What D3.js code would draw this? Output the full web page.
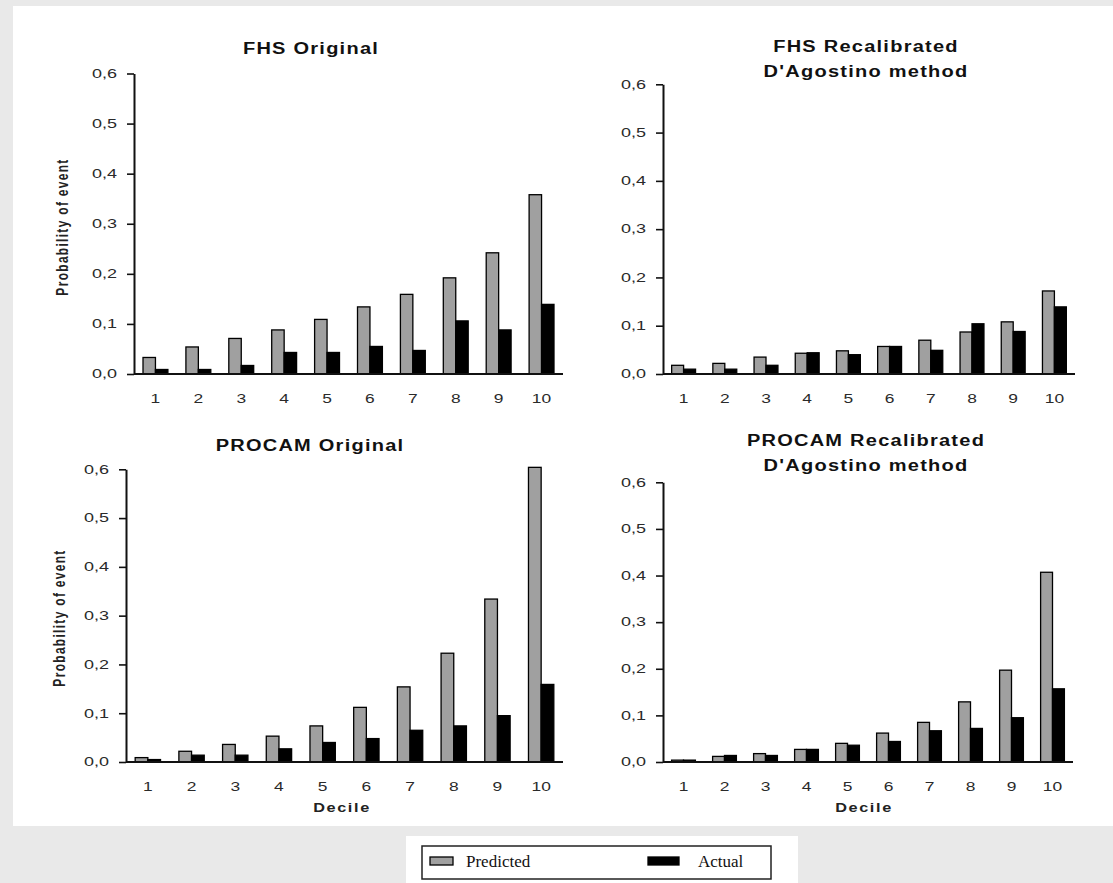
<!DOCTYPE html>
<html lang="en">
<head>
<meta charset="utf-8">
<title>Predicted vs actual by decile</title>
<script src="https://d3js.org/d3.v7.min.js"></script>
<style>
body { margin: 0; background: #e9e9e9; }
svg { display: block; }
.domain { stroke: #111; stroke-width: 2; }
.tick line { stroke: #111; stroke-width: 1.6; }
.tick text { font-family: "Liberation Sans", Arial, sans-serif; font-size: 12px; fill: #2a2a2a; }
.title { font-family: "Liberation Sans", Arial, sans-serif; font-size: 16px; font-weight: bold; fill: #111; letter-spacing: 1px; }
.axlabel { font-family: "Liberation Sans", Arial, sans-serif; font-size: 12px; font-weight: bold; fill: #222; letter-spacing: 1.3px; }
.legend text { font-family: "Liberation Serif", "Times New Roman", serif; font-size: 17px; fill: #111; }
</style>
</head>
<body>
<div id="container"></div>
<script>
// data
var deciles = ["1", "2", "3", "4", "5", "6", "7", "8", "9", "10"];
var yTicks = [0, 0.1, 0.2, 0.3, 0.4, 0.5, 0.6];

var fhsOrigPredicted = [0.033, 0.054, 0.071, 0.088, 0.109, 0.134, 0.159, 0.192, 0.242, 0.358];
var fhsOrigActual    = [0.009, 0.009, 0.017, 0.043, 0.043, 0.055, 0.047, 0.106, 0.088, 0.139];

var fhsRecalPredicted = [0.018, 0.022, 0.035, 0.043, 0.048, 0.057, 0.070, 0.087, 0.108, 0.172];
var fhsRecalActual    = [0.010, 0.010, 0.018, 0.044, 0.040, 0.057, 0.049, 0.104, 0.088, 0.139];

var procamOrigPredicted = [0.009, 0.022, 0.036, 0.053, 0.074, 0.112, 0.154, 0.223, 0.334, 0.604];
var procamOrigActual    = [0.005, 0.014, 0.014, 0.027, 0.040, 0.048, 0.065, 0.074, 0.095, 0.159];

var procamRecalPredicted = [0.004, 0.012, 0.018, 0.027, 0.040, 0.062, 0.085, 0.129, 0.197, 0.407];
var procamRecalActual    = [0.004, 0.014, 0.014, 0.027, 0.036, 0.044, 0.067, 0.072, 0.095, 0.157];

var seriesNames = ["Predicted", "Actual"];
var seriesColors = ["#a0a0a0", "#000000"];

var w = 1113, h = 883;
var svg = d3.select("#container").append("svg").attr("width", w).attr("height", h);

svg.append("rect").attr("x", 13).attr("y", 6).attr("width", w - 13).attr("height", 820).attr("fill", "#fff");

var panels = [
  { titles: ["FHS Original"], tY: [54], tX: 311, pred: fhsOrigPredicted, act: fhsOrigActual,
    x0: 134, x1: 563, yBot: 374, yTop: 73.5, yLab: [64, 227] },
  { titles: ["FHS Recalibrated", "D'Agostino method"], tY: [52, 77], tX: 866, pred: fhsRecalPredicted, act: fhsRecalActual,
    x0: 663, x1: 1075, yBot: 374, yTop: 84.3 },
  { titles: ["PROCAM Original"], tY: [451], tX: 310, pred: procamOrigPredicted, act: procamOrigActual,
    x0: 126, x1: 563, yBot: 762, yTop: 469.3, yLab: [61, 618], xLab: [342, 812] },
  { titles: ["PROCAM Recalibrated", "D'Agostino method"], tY: [446, 471], tX: 866, pred: procamRecalPredicted, act: procamRecalActual,
    x0: 663, x1: 1073, yBot: 762, yTop: 482.3, xLab: [864, 812] }
];

var comma = function(v) { return d3.format(".1f")(v).replace(".", ","); };

panels.forEach(function(p) {
  var x = d3.scaleBand().domain(deciles).range([p.x0, p.x1]).paddingInner(0.42).paddingOuter(0.21);
  var y = d3.scaleLinear().domain([0, 0.6]).range([p.yBot, p.yTop]);
  var g = svg.append("g");

  var bw = x.bandwidth() / 2;
  [p.pred, p.act].forEach(function(vals, si) {
    g.selectAll(null).data(vals).enter().append("rect")
      .attr("x", function(d, i) { return x(deciles[i]) + si * bw; })
      .attr("y", function(d) { return y(d); })
      .attr("width", bw)
      .attr("height", function(d) { return y(0) - y(d); })
      .attr("fill", seriesColors[si])
      .attr("stroke", "#000")
      .attr("stroke-width", 1.3);
  });

  var gy = g.append("g").attr("transform", "translate(" + p.x0 + ",0)")
    .call(d3.axisLeft(y).tickValues(yTicks).tickFormat(comma).tickSize(7).tickSizeOuter(0));
  gy.selectAll(".tick text").attr("x", 0).attr("transform", "translate(-17,0) scale(1.5,1)");

  var gx = g.append("g").attr("transform", "translate(0," + p.yBot + ")")
    .call(d3.axisBottom(x).tickSize(0).tickSizeOuter(0).tickPadding(20));
  gx.select(".domain").attr("d", "M" + p.x0 + ",0H" + p.x1);
  gx.selectAll(".tick text").attr("transform", "scale(1.45,1)");

  p.titles.forEach(function(t, i) {
    g.append("text").attr("class", "title").attr("text-anchor", "middle")
      .attr("transform", "translate(" + p.tX + "," + p.tY[i] + ") scale(1.25,1)").text(t);
  });

  if (p.yLab) {
    g.append("text").attr("class", "axlabel").attr("text-anchor", "middle")
      .attr("transform", "translate(" + (p.yLab[0] + 4) + "," + p.yLab[1] + ") rotate(-90) scale(1,1.3)")
      .text("Probability of event");
  }
  if (p.xLab) {
    g.append("text").attr("class", "axlabel").attr("text-anchor", "middle")
      .style("font-size", "13px")
      .attr("transform", "translate(" + p.xLab[0] + "," + p.xLab[1] + ") scale(1.25,1)")
      .text("Decile");
  }
});

// legend
var lg = svg.append("g").attr("class", "legend");
lg.append("rect").attr("x", 406).attr("y", 836).attr("width", 392).attr("height", 47).attr("fill", "#fff");
lg.append("rect").attr("x", 422).attr("y", 846).attr("width", 349).attr("height", 33)
  .attr("fill", "none").attr("stroke", "#222").attr("stroke-width", 1.5);
var legX = [430, 648], legW = [23, 31], legT = [466, 698];
seriesNames.forEach(function(n, i) {
  lg.append("rect").attr("x", legX[i]).attr("y", 857).attr("width", legW[i]).attr("height", 8)
    .attr("fill", seriesColors[i]).attr("stroke", "#000").attr("stroke-width", 1.3);
  lg.append("text").attr("x", legT[i]).attr("y", 867).text(n);
});
</script>
</body>
</html>
